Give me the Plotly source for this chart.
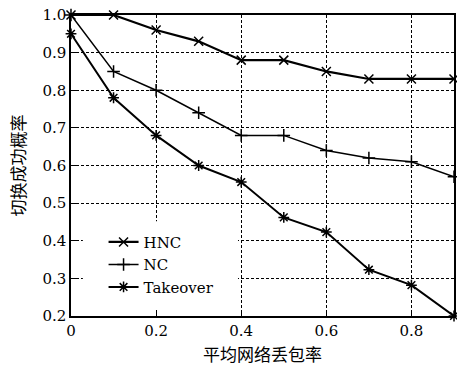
import plotly.graph_objects as go

x_vals = [0, 0.1, 0.2, 0.3, 0.4, 0.5, 0.6, 0.7, 0.8, 0.9]
hnc = [1.0, 1.0, 0.96, 0.93, 0.88, 0.88, 0.85, 0.83, 0.83, 0.83]
nc = [1.0, 0.85, 0.80, 0.74, 0.68, 0.68, 0.64, 0.62, 0.61, 0.57]
takeover = [0.95, 0.78, 0.68, 0.60, 0.556, 0.462, 0.423, 0.323, 0.282, 0.20]
x_ticks = [0, 0.2, 0.4, 0.6, 0.8]
x_tick_text = ["0", "0.2", "0.4", "0.6", "0.8"]
y_ticks = [0.2, 0.3, 0.4, 0.5, 0.6, 0.7, 0.8, 0.9, 1.0]
y_tick_text = ["0.2", "0.3", "0.4", "0.5", "0.6", "0.7", "0.8", "0.9", "1.0"]

serif = "DejaVu Serif"
cjk = "Noto Sans CJK SC"

fig = go.Figure()
series = [
    ("HNC", hnc, "x-thin", 2.2),
    ("NC", nc, "cross-thin", 1.5),
    ("Takeover", takeover, "asterisk", 2),
]
for name, ys, sym, lw in series:
    fig.add_trace(go.Scatter(
        x=x_vals, y=ys, name=name, mode="lines+markers",
        line=dict(color="black", width=lw),
        marker=dict(symbol=sym, size=9, color="black",
                    line=dict(color="black", width=1.5)),
        cliponaxis=False,
    ))

# white area behind the legend (hides grid lines there)
fig.add_shape(type="rect", xref="paper", yref="paper",
              x0=0.031, x1=0.436, y0=0.02, y1=0.315,
              fillcolor="white", line=dict(width=0), layer="above")

axis_common = dict(
    showline=True, linecolor="black", linewidth=1.5, mirror=True,
    showgrid=True, gridcolor="black", gridwidth=1, griddash="3px,2px",
    ticks="inside", ticklen=5, tickcolor="black",
    zeroline=False, ticklabeloverflow="allow",
    tickfont=dict(family=serif, size=15, color="black"),
)

fig.update_layout(
    width=457, height=371,
    margin=dict(l=71, r=3, t=15, b=55, autoexpand=False),
    paper_bgcolor="white", plot_bgcolor="white",
    showlegend=True,
    legend=dict(x=0.085, y=0.30, xanchor="left", yanchor="top",
                bgcolor="rgba(0,0,0,0)", borderwidth=0,
                font=dict(family=serif, size=15, color="black"),
                tracegroupgap=0),
    xaxis=dict(range=[0, 0.9], tickvals=x_ticks, ticktext=x_tick_text,
               title=dict(text="平均网络丢包率", font=dict(family=cjk, size=17, color="black"), standoff=10),
               **axis_common),
    yaxis=dict(range=[0.2, 1.0], tickvals=y_ticks, ticktext=y_tick_text,
               title=dict(text="切换成功概率", font=dict(family=cjk, size=17, color="black"), standoff=12),
               **axis_common),
)

fig.write_html(
    "out.html",
    config={"displayModeBar": False},
    post_script="document.body.style.margin='0';document.body.style.overflow='hidden';document.documentElement.style.overflow='hidden';",
)
